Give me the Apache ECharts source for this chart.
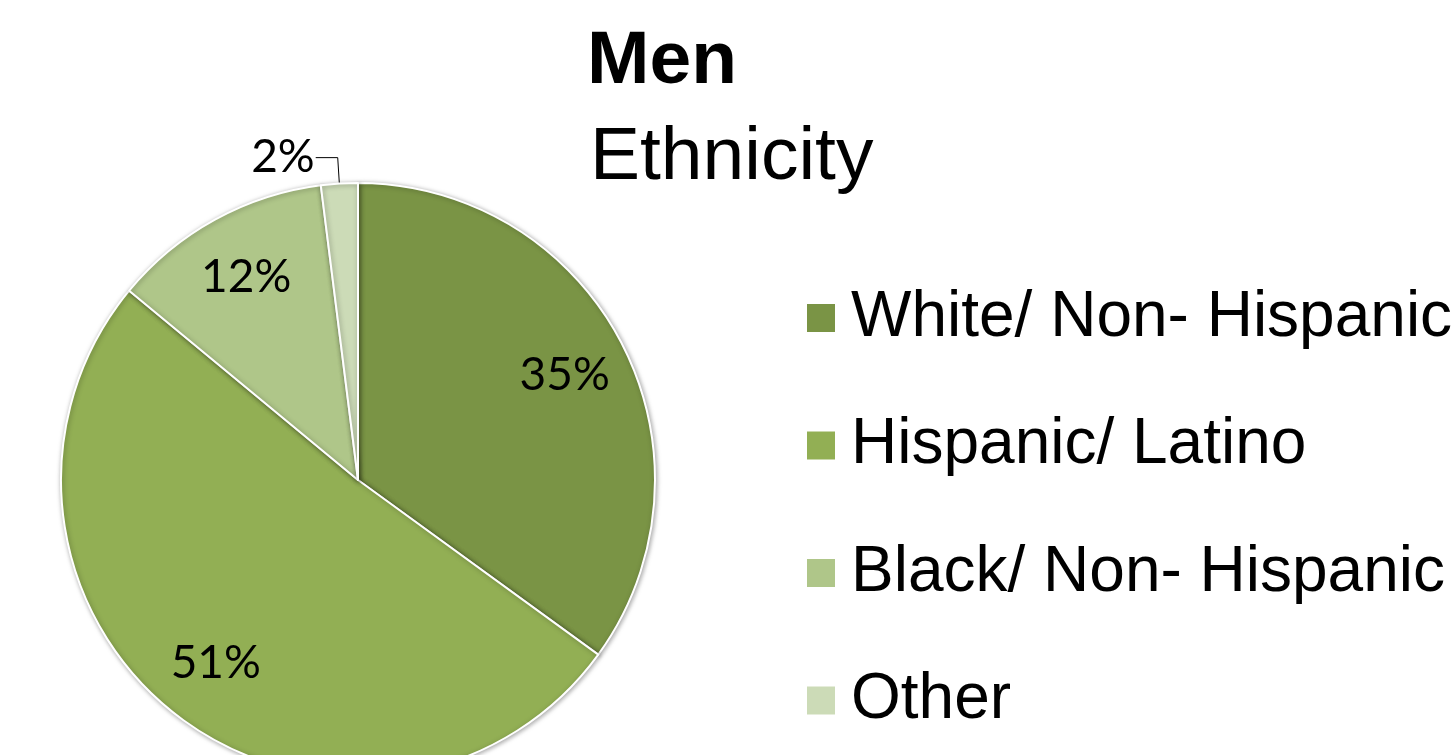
<!DOCTYPE html>
<html>
<head>
<meta charset="utf-8">
<script src="https://cdn.jsdelivr.net/npm/echarts@6/dist/echarts.min.js"></script>
<style>html,body{margin:0;padding:0;background:#fff;}#c{width:1455px;height:755px;}</style>
</head>
<body>
<div id="c"></div>
<script>
const categories = ['White/ Non- Hispanic', 'Hispanic/ Latino', 'Black/ Non- Hispanic', 'Other'];
const values = [35, 51, 12, 2];
const colors = ['#7A9445', '#92AF54', '#AFC689', '#CCDBB7'];
const titleText = 'Men';
const subtitleText = 'Ethnicity';

const chart = echarts.init(document.getElementById('c'));
const center = [358, 480];
const labelFont = 'Lato, "Noto Sans", sans-serif';
const mainData = categories.map((n, i) => ({
  name: n, value: values[i], itemStyle: { color: colors[i] },
  label: { show: i === 3 }, labelLine: { show: i === 3 }
}));
const labelData = categories.map((n, i) => ({
  name: n, value: values[i], label: { show: i !== 3 }
}));
chart.setOption({
  animation: false,
  title: [
    { text: titleText, left: 587, top: 25, padding: 0, textStyle: { fontFamily: '"Liberation Sans", Arial, sans-serif', fontWeight: 'bold', fontSize: 75, lineHeight: 74, color: '#000' } },
    { text: subtitleText, left: 590, top: 121, padding: 0, textStyle: { fontFamily: '"Liberation Sans", Arial, sans-serif', fontWeight: 'normal', fontSize: 75, lineHeight: 74, color: '#000' } }
  ],
  legend: {
    orient: 'vertical', left: 805, top: 286, padding: 0,
    itemWidth: 30, itemHeight: 30, itemGap: 63.5, icon: 'rect',
    data: categories.map((n, i) => ({ name: n, itemStyle: { color: colors[i] } })),
    textStyle: { fontFamily: '"Liberation Sans", Arial, sans-serif', fontSize: 64, lineHeight: 64, color: '#000', padding: [0, 0, 0, 10] },
    selectedMode: false
  },
  series: [
    {
      type: 'pie', center: center, radius: [0, 297], startAngle: 90, clockwise: true,
      avoidLabelOverlap: false,
      itemStyle: { borderColor: '#fff', borderWidth: 2, shadowBlur: 5, shadowColor: 'rgba(0,0,0,0.35)', shadowOffsetX: 1, shadowOffsetY: 1 },
      label: { position: 'outside', formatter: '{d}%', fontFamily: labelFont, fontSize: 46, color: '#000', distanceToLabelLine: 1 },
      labelLine: { length: 26, length2: 22, smooth: false, lineStyle: { color: '#000', width: 1 } },
      emphasis: { disabled: true },
      data: mainData
    },
    {
      type: 'pie', center: center, radius: [0, 458], startAngle: 90, clockwise: true,
      silent: true, avoidLabelOverlap: false,
      itemStyle: { color: 'rgba(0,0,0,0)', borderWidth: 0 },
      label: { position: 'inside', formatter: '{d}%', fontFamily: labelFont, fontSize: 46, color: '#000' },
      labelLine: { show: false },
      emphasis: { disabled: true },
      data: labelData
    }
  ]
});
</script>
</body>
</html>
